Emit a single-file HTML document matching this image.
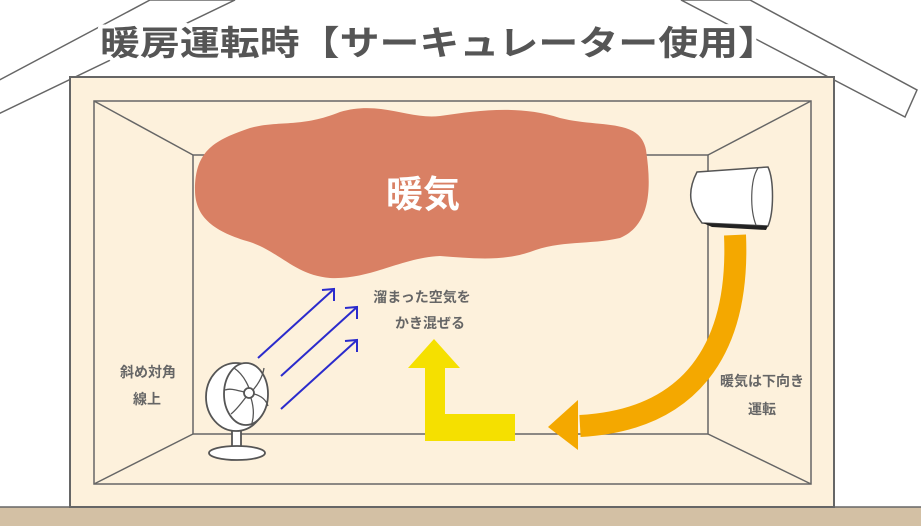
<!DOCTYPE html>
<html><head><meta charset="utf-8"><style>
html,body{margin:0;padding:0;background:#fff}
svg{display:block}
text{font-family:"Liberation Sans","Noto Sans CJK JP",sans-serif}
</style></head><body>
<svg width="921" height="526" viewBox="0 0 921 526" xmlns="http://www.w3.org/2000/svg">
<rect width="921" height="526" fill="#fff"/>
<!-- roof -->
<polygon points="-10,85 150,0 235,0 -10,118" fill="#fff" stroke="#666" stroke-width="1.5"/>
<polygon points="750,0 917,90 905,117 681,0" fill="#fff" stroke="#666" stroke-width="1.5"/>
<!-- ground -->
<rect x="0" y="507" width="921" height="19" fill="#d3c0a4"/>
<line x1="0" y1="507" x2="921" y2="507" stroke="#666" stroke-width="1.5"/>
<!-- house -->
<rect x="70" y="77" width="764" height="430" fill="#fdf1dc" stroke="#666" stroke-width="2"/>
<rect x="94" y="101" width="717" height="383" fill="none" stroke="#666" stroke-width="1.5"/>
<rect x="193" y="155" width="515" height="279" fill="none" stroke="#666" stroke-width="1.5"/>
<g stroke="#666" stroke-width="1.5">
<line x1="94" y1="101" x2="193" y2="155"/><line x1="811" y1="101" x2="708" y2="155"/>
<line x1="94" y1="484" x2="193" y2="434"/><line x1="811" y1="484" x2="708" y2="434"/>
</g>
<!-- title -->
<text x="100" y="55" font-size="34" font-weight="bold" fill="#555" stroke="#fff" stroke-width="8" stroke-linejoin="round" paint-order="stroke" textLength="678" lengthAdjust="spacingAndGlyphs">暖房運転時【サーキュレーター使用】</text>
<!-- cloud -->
<path d="M195,190 C195,150 215,140 250,128 C280,120 300,128 340,112 C380,100 410,120 440,116 C480,110 520,105 560,118 C600,128 640,118 646,150 C652,190 650,225 620,238 C590,245 560,240 530,252 C500,262 470,258 440,256 C400,258 370,280 330,278 C295,275 280,252 250,242 C215,232 195,218 195,190 Z" fill="#d98064"/>
<text x="423" y="207" font-size="37" font-weight="bold" fill="#fff" text-anchor="middle">暖気</text>
<!-- AC -->
<path d="M697,172 L768,167 C774,180 774,212 768,226 L702,223 C692,210 685,195 697,172 Z" fill="#fff" stroke="#555" stroke-width="1.5"/>
<path d="M758,168 C750,180 750,210 756,225" fill="none" stroke="#555" stroke-width="1.2"/>
<path d="M703,223 L768,226 L766,230 L712,227 Z" fill="#222"/>
<!-- orange arrow -->
<path d="M735,235 C740,350 690,420 580,426" fill="none" stroke="#f4a800" stroke-width="22"/>
<polygon points="548,427 578,400 578,450" fill="#f4a800"/>
<!-- yellow arrow -->
<polygon points="434,339 460,368 445,368 445,414 515,414 515,441 425,441 425,368 408,368" fill="#f5e000"/>
<!-- blue arrows -->
<g stroke="#2b2bcc" stroke-width="2" fill="none">
<line x1="258" y1="358" x2="334" y2="289"/><polyline points="322,290 334,289 334,301"/>
<line x1="281" y1="376" x2="357" y2="307"/><polyline points="345,308 357,307 357,319"/>
<line x1="281" y1="409" x2="357" y2="340"/><polyline points="345,341 357,340 357,352"/>
</g>
<!-- fan -->
<g stroke="#555" stroke-width="1.8" fill="#fff">
<rect x="232" y="430" width="9" height="20"/>
<ellipse cx="237" cy="453" rx="28" ry="7"/>
<ellipse cx="236" cy="397" rx="30" ry="34"/>
<ellipse cx="246" cy="394" rx="22" ry="31"/>
<circle cx="249" cy="393" r="5"/>
</g>
<g stroke="#555" stroke-width="1.3" fill="none">
<path d="M249,388 C245,378 240,372 234,368"/><path d="M253,390 C260,382 263,375 264,368"/>
<path d="M254,394 C262,396 266,400 268,406"/><path d="M251,398 C254,408 254,416 252,423"/>
<path d="M246,397 C240,405 236,410 231,414"/><path d="M244,392 C236,390 230,388 225,390"/>
</g>
<!-- labels -->
<g font-size="14" font-weight="bold" fill="#666" text-anchor="middle">
<text x="422" y="302">溜まった空気を</text>
<text x="430" y="328">かき混ぜる</text>
<text x="148" y="377">斜め対角</text>
<text x="147" y="404">線上</text>
<text x="762" y="386">暖気は下向き</text>
<text x="762" y="414">運転</text>
</g>
</svg>
</body></html>
